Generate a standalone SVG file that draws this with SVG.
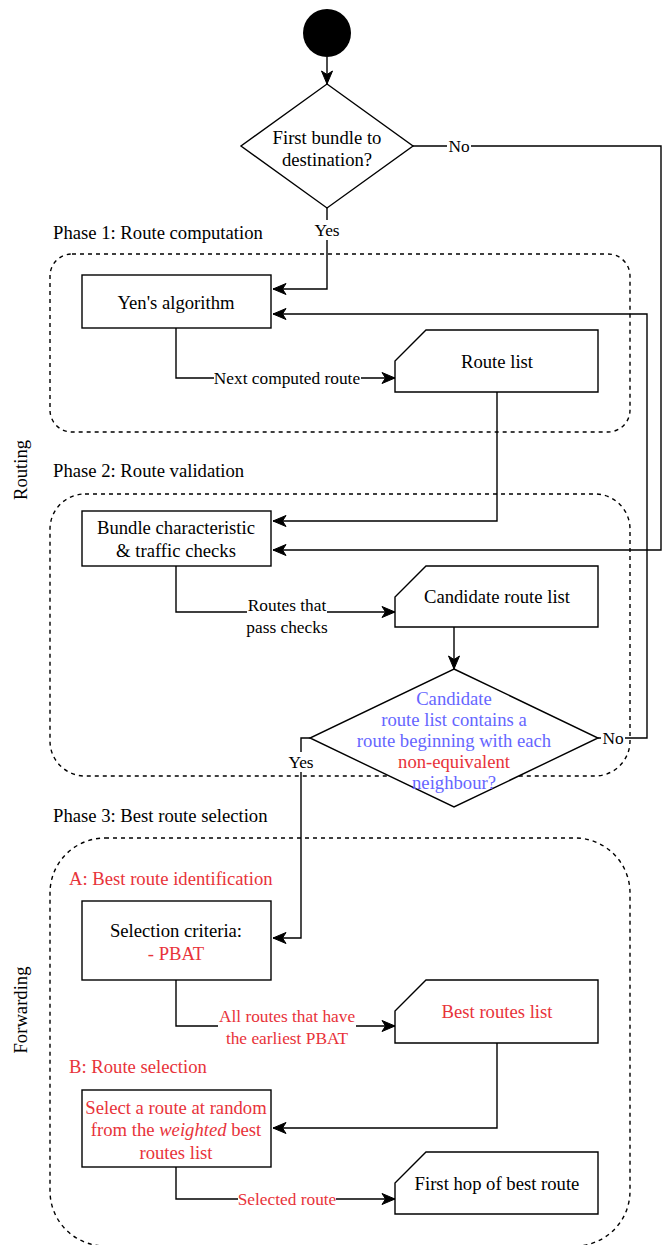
<svg xmlns="http://www.w3.org/2000/svg" width="664" height="1245" viewBox="0 0 664 1245">
  <style>
    .txt { font-family: 'Liberation Serif', 'Times New Roman', Tinos, 'Nimbus Roman', 'DejaVu Serif', serif; font-size: 18.67px; fill: #000; }
    .lbl { font-family: 'Liberation Serif', 'Times New Roman', Tinos, 'Nimbus Roman', 'DejaVu Serif', serif; font-size: 17.33px; fill: #000; }
    .mid { text-anchor: middle; dominant-baseline: central; }
    .lft { text-anchor: start; dominant-baseline: central; }
    .red { fill: #E8333A; }
    .blue { fill: #6666FF; }
    .box { fill: #fff; stroke: #000; stroke-width: 1.4; }
    .grp { fill: none; stroke: #000; stroke-width: 1.4; stroke-dasharray: 4 4; }
    .edge { fill: none; stroke: #000; stroke-width: 1.4; marker-end: url(#arrow); }
    .bg { fill: #fff; }
  </style>
  <defs>
    <marker id="arrow" markerUnits="userSpaceOnUse" markerWidth="16" markerHeight="14" refX="14" refY="7" orient="auto">
      <path d="M1,1.5 L14,7 L1,12.5 L4.5,7 Z" fill="#000" stroke="#000" stroke-width="1"/>
    </marker>
  </defs>
  <rect width="664" height="1245" fill="#fff"/>

  <!-- swimlane titles -->
  <g id="lane-routing">
    <text class="txt mid" transform="translate(20,470) rotate(-90)">Routing</text>
  </g>
  <g id="lane-forwarding">
    <text class="txt mid" transform="translate(20,1010) rotate(-90)">Forwarding</text>
  </g>

  <!-- phase containers -->
  <g id="phase1">
    <text class="txt lft" x="53" y="232">Phase 1: Route computation</text>
    <rect class="grp" x="50" y="254" width="580" height="178" rx="22" ry="22"/>
  </g>
  <g id="phase2">
    <text class="txt lft" x="53" y="470">Phase 2: Route validation</text>
    <rect class="grp" x="50" y="494" width="580" height="282" rx="35" ry="35"/>
  </g>
  <g id="phase3">
    <text class="txt lft" x="53" y="815">Phase 3: Best route selection</text>
    <rect class="grp" x="50" y="838" width="580" height="408" rx="55" ry="55"/>
    <text class="txt lft red" x="69" y="878">A: Best route identification</text>
    <text class="txt lft red" x="69" y="1066">B: Route selection</text>
  </g>

  <!-- connectors -->
  <g id="connectors">
    <path class="edge" d="M327,57 L327,84"/>
    <path class="edge" d="M327,208 L327,289 L273,289"/>
    <path class="edge" d="M413,146 L661,146 L661,550 L273,550"/>
    <path class="edge" d="M176,328 L176,378 L395,378"/>
    <path class="edge" d="M497,392 L497,521 L273,521"/>
    <path class="edge" d="M176,566 L176,612 L395,612"/>
    <path class="edge" d="M454,627 L454,669"/>
    <path class="edge" d="M598,738 L647,738 L647,314 L273,314"/>
    <path class="edge" d="M310,738 L301,738 L301,938 L273,938"/>
    <path class="edge" d="M176,980 L176,1026 L395,1026"/>
    <path class="edge" d="M497,1043 L497,1128 L273,1128"/>
    <path class="edge" d="M176,1167 L176,1199 L395,1199"/>

    <!-- connector labels -->
    <rect class="bg" x="447" y="136" width="24" height="20"/>
    <text class="lbl mid" x="459" y="146">No</text>
    <rect class="bg" x="313" y="220" width="28" height="20"/>
    <text class="lbl mid" x="327" y="230">Yes</text>
    <rect class="bg" x="214" y="368" width="147" height="20"/>
    <text class="lbl mid" x="287" y="378">Next computed route</text>
    <rect class="bg" x="247" y="596" width="80" height="42"/>
    <text class="lbl mid" x="287" y="605">Routes that</text>
    <text class="lbl mid" x="287" y="627">pass checks</text>
    <rect class="bg" x="601" y="728" width="24" height="20"/>
    <text class="lbl mid" x="613" y="738">No</text>
    <rect class="bg" x="287" y="752" width="28" height="20"/>
    <text class="lbl mid" x="301" y="762">Yes</text>
    <rect class="bg" x="218" y="1006" width="138" height="43"/>
    <text class="lbl mid red" x="287" y="1016">All routes that have</text>
    <text class="lbl mid red" x="287" y="1038">the earliest PBAT</text>
    <rect class="bg" x="238" y="1189" width="98" height="20"/>
    <text class="lbl mid red" x="287" y="1199">Selected route</text>
  </g>

  <!-- nodes -->
  <g id="start">
    <circle cx="327" cy="33" r="24" fill="#000"/>
  </g>

  <g id="first-bundle">
    <polygon class="box" points="327,84 413,146 327,208 241,146"/>
    <text class="txt mid" x="327" y="137">First bundle to</text>
    <text class="txt mid" x="327" y="159">destination?</text>
  </g>

  <g id="yens-algorithm">
    <rect class="box" x="82" y="275" width="189" height="53"/>
    <text class="txt mid" x="176" y="302">Yen's algorithm</text>
  </g>

  <g id="route-list">
    <path class="box" d="M426,330 L598,330 L598,392 L395,392 L395,361 Z"/>
    <text class="txt mid" x="497" y="361">Route list</text>
  </g>

  <g id="checks">
    <rect class="box" x="82" y="511" width="189" height="55"/>
    <text class="txt mid" x="176" y="527">Bundle characteristic</text>
    <text class="txt mid" x="176" y="550">&amp; traffic checks</text>
  </g>

  <g id="candidate-route-list">
    <path class="box" d="M426,566 L598,566 L598,627 L395,627 L395,597 Z"/>
    <text class="txt mid" x="497" y="596">Candidate route list</text>
  </g>

  <g id="coverage-check">
    <polygon class="box" points="454,669 598,738 454,807 310,738"/>
    <text class="txt mid blue" x="454" y="698">Candidate</text>
    <text class="txt mid blue" x="454" y="719">route list contains a</text>
    <text class="txt mid blue" x="454" y="740">route beginning with each</text>
    <text class="txt mid red" x="454" y="761">non-equivalent</text>
    <text class="txt mid blue" x="454" y="782">neighbour?</text>
  </g>

  <g id="selection-criteria">
    <rect class="box" x="82" y="901" width="189" height="79"/>
    <text class="txt mid" x="176" y="930">Selection criteria:</text>
    <text class="txt mid red" x="176" y="953">- PBAT</text>
  </g>

  <g id="best-routes-list">
    <path class="box" d="M426,980 L598,980 L598,1043 L395,1043 L395,1011 Z"/>
    <text class="txt mid red" x="497" y="1011">Best routes list</text>
  </g>

  <g id="random-selection">
    <rect class="box" x="82" y="1090" width="189" height="77"/>
    <text class="txt mid red" x="176" y="1107">Select a route at random</text>
    <text class="txt mid red" x="176" y="1129">from the <tspan font-style="italic">weighted</tspan> best</text>
    <text class="txt mid red" x="176" y="1152">routes list</text>
  </g>

  <g id="first-hop">
    <path class="box" d="M426,1152 L598,1152 L598,1214 L395,1214 L395,1183 Z"/>
    <text class="txt mid" x="497" y="1183">First hop of best route</text>
  </g>
</svg>
